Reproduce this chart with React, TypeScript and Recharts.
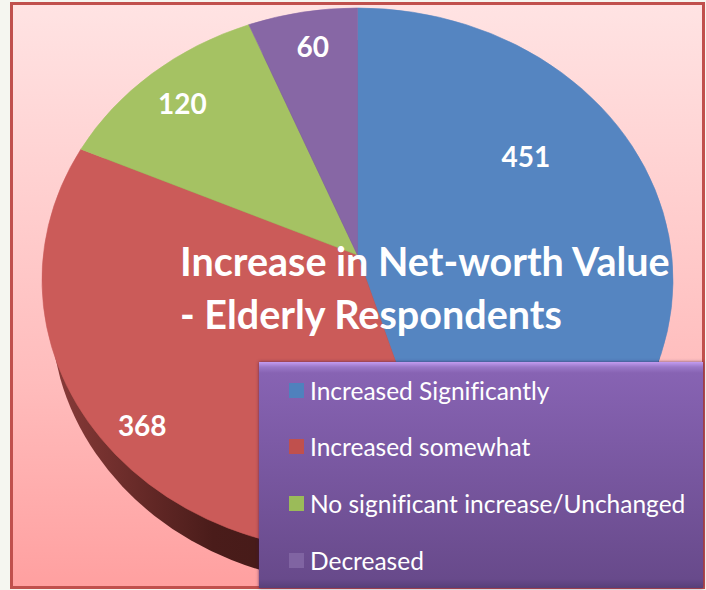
import { Legend, Pie, PieChart } from 'recharts'

const categories = ['Increased Significantly', 'Increased somewhat', 'No significant increase/Unchanged', 'Decreased']
const values = [451, 368, 120, 60]
const sliceColors = ['#5585c1', '#cb5b59', '#a5c263', '#8767a5']
const depthColors = ['#27405e', 'url(#redDepth)', '#4e5f2c', '#3f2f50']
const legendColors = ['#4f81bd', '#c0504d', '#9bbb59', '#8064a2']
const titleLines = ['Increase in Net-worth Value', '- Elderly Respondents']

// the pie is tilted: apex sits above the centre of the ellipse
const APEX_X = 357.5
const APEX_Y = 255
const RX = 315.5
const RY = 272
const ELLIPSE_Y = 280
const DEPTH = 32
const PERSPECTIVE_SKEW = 4
const LABEL_FRAC = 0.62
const labelNudges = [[-25, -98], [-68, 34], [-41, -54], [-8, -68]]

const FONT = 'Lato, sans-serif'
const RAD = Math.PI / 180

const tableData = categories.map((name, i) => ({ name, value: values[i], fill: sliceColors[i] }))
const depthData = categories.map((name, i) => ({ name, value: values[i], fill: depthColors[i] }))

// perspective bends the slice edges a little away from the true angle
const warp = (angle: number) => angle + PERSPECTIVE_SKEW * Math.cos(angle * RAD)

function ellipseSlice(cx: number, apexY: number, centreY: number, rx: number, startAngle: number, endAngle: number) {
  const a1 = warp(startAngle) * RAD
  const a2 = warp(endAngle) * RAD
  const x1 = cx + rx * Math.cos(a1)
  const y1 = centreY - RY * Math.sin(a1)
  const x2 = cx + rx * Math.cos(a2)
  const y2 = centreY - RY * Math.sin(a2)
  const large = Math.abs(endAngle - startAngle) > 180 ? 1 : 0
  return `M${cx},${apexY} L${x1},${y1} A${rx},${RY} 0 ${large} 1 ${x2},${y2} Z`
}

function TiltedSlice(props: any) {
  const { cx, cy, startAngle, endAngle, fill } = props
  return <path d={ellipseSlice(cx, cy, ELLIPSE_Y, RX, startAngle, endAngle)} fill={fill} stroke={fill} strokeWidth={0.6} />
}

function DepthSlice(props: any) {
  const { cx, startAngle, endAngle, fill } = props
  return <path d={ellipseSlice(cx, ELLIPSE_Y, ELLIPSE_Y + DEPTH, RX - 9, startAngle, endAngle)} fill={fill} />
}

function sliceLabel(props: any) {
  const { cx, midAngle, value, index } = props
  const x = cx + RX * LABEL_FRAC * Math.cos(midAngle * RAD) + labelNudges[index][0]
  const y = ELLIPSE_Y - RY * LABEL_FRAC * Math.sin(midAngle * RAD) + labelNudges[index][1]
  return (
    <text x={x} y={y} fill="#fff" fontFamily={FONT} fontWeight={700} fontSize={28} textAnchor="middle" dominantBaseline="central">
      {value}
    </text>
  )
}

function LegendBox() {
  return (
    <div
      style={{
        width: 444,
        height: 226,
        background: 'linear-gradient(#c39cf0, #9a78c8 5px, #8763b3 11px, #684a8b 96%, #574078)',
        boxShadow: '0 0 3px rgba(50, 20, 80, 0.7)',
        fontFamily: FONT,
        fontVariantLigatures: 'none',
        color: '#fff',
        fontSize: 24.5,
      }}
    >
      {categories.map((name, i) => (
        <div key={name} style={{ position: 'absolute', left: 30, top: 13 + i * 56.7, display: 'flex', alignItems: 'center', height: 30, whiteSpace: 'nowrap' }}>
          <span style={{ width: 15, height: 15, background: legendColors[i], marginRight: 6 }} />
          {name}
        </div>
      ))}
    </div>
  )
}

export default function App() {
  return (
    <div style={{ position: 'absolute', left: 0, top: 0, width: 706, height: 590, background: '#f5f6f0', overflow: 'hidden' }}>
      <div
        style={{
          position: 'absolute',
          left: 10,
          top: 2,
          width: 695,
          height: 587,
          boxSizing: 'border-box',
          border: '3px solid #c0504d',
          background: 'linear-gradient(#ffe3e3, #ffbcbc 65%, #ffa0a0)',
        }}
      />
      <div style={{ position: 'absolute', left: 0, top: 0 }}>
        <PieChart width={706} height={590} margin={{ top: 0, right: 0, bottom: 0, left: 0 }}>
          <defs>
            <linearGradient id="redDepth" x1="0" y1="0" x2="1" y2="0">
              <stop offset="0%" stopColor="#8a3b39" />
              <stop offset="40%" stopColor="#4a1c1a" />
              <stop offset="100%" stopColor="#3a1614" />
            </linearGradient>
          </defs>
          <Pie
            data={depthData}
            dataKey="value"
            cx={APEX_X}
            cy={APEX_Y}
            outerRadius={RX}
            startAngle={90}
            endAngle={-270}
            stroke="none"
            legendType="none"
            shape={DepthSlice}
            isAnimationActive={false}
          />
          <Pie
            data={tableData}
            dataKey="value"
            nameKey="name"
            cx={APEX_X}
            cy={APEX_Y}
            outerRadius={RX}
            startAngle={90}
            endAngle={-270}
            stroke="none"
            shape={TiltedSlice}
            label={sliceLabel}
            labelLine={false}
            isAnimationActive={false}
          />
          <Legend content={<LegendBox />} wrapperStyle={{ left: 259, top: 362, width: 444, height: 226, bottom: 'auto' }} />
        </PieChart>
      </div>
      {/* pie sectors paint over anything inside the chart, so the title sits on top */}
      <svg width={706} height={590} style={{ position: 'absolute', left: 0, top: 0, pointerEvents: 'none' }}>
        {titleLines.map((line, i) => (
          <text key={line} x={180} y={276 + i * 52.5} fill="#fff" fontFamily={FONT} fontWeight={700} fontSize={39.5}>
            {line}
          </text>
        ))}
      </svg>
    </div>
  )
}
